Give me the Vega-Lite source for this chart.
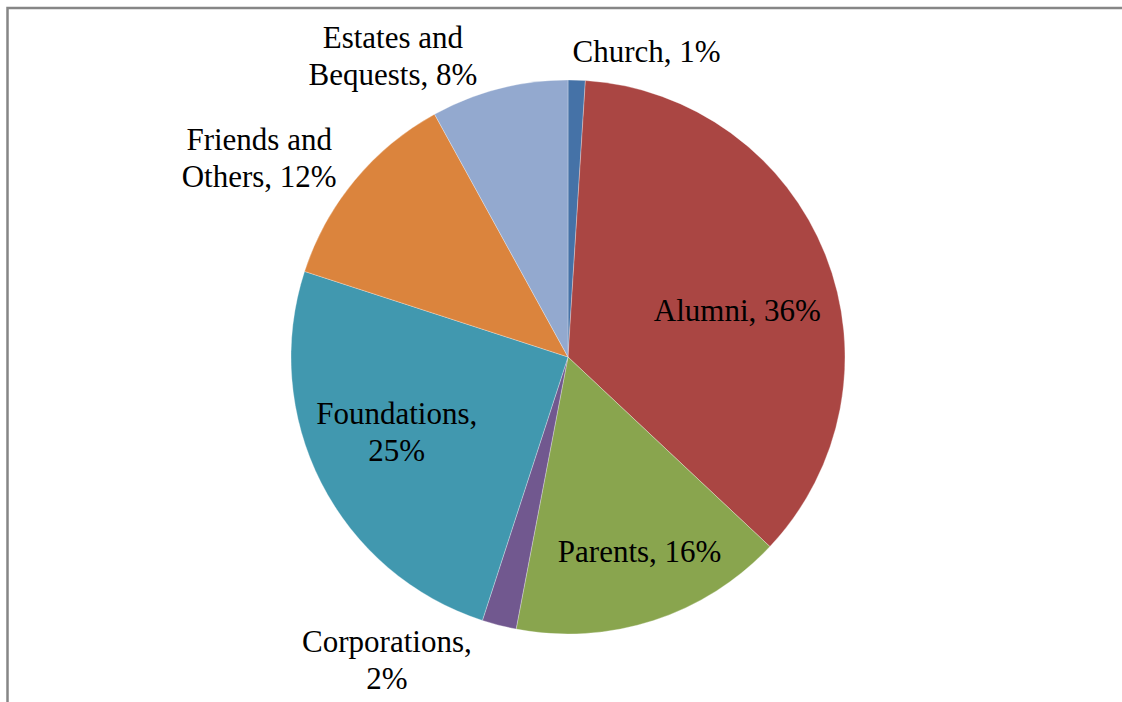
{
  "$schema": "https://vega.github.io/schema/vega-lite/v6.json",
  "width": 1121,
  "height": 698,
  "autosize": {"type": "none"},
  "padding": {"left": 7.5, "top": 8, "right": -6.5, "bottom": -4},
  "background": "white",
  "view": {"stroke": "#868686", "strokeWidth": 2.5},
  "data": {
    "values": [
      {"source": "Church", "label": "Church, 1%", "share": 1, "order": 1},
      {"source": "Alumni", "label": "Alumni, 36%", "share": 36, "order": 2},
      {"source": "Parents", "label": "Parents, 16%", "share": 16, "order": 3},
      {"source": "Corporations", "label": "Corporations,\n2%", "share": 2, "order": 4},
      {"source": "Foundations", "label": "Foundations,\n25%", "share": 25, "order": 5},
      {"source": "Friends and Others", "label": "Friends and\nOthers, 12%", "share": 12, "order": 6},
      {"source": "Estates and Bequests", "label": "Estates and\nBequests, 8%", "share": 8, "order": 7}
    ]
  },
  "transform": [
    {"stack": "share", "groupby": [], "sort": [{"field": "order", "order": "ascending"}], "as": ["s0", "s1"]},
    {"calculate": "(datum.s0 + datum.s1) / 2", "as": "mid"}
  ],
  "layer": [
    {
      "mark": {"type": "arc", "outerRadius": 277, "stroke": "white", "strokeWidth": 0.3},
      "encoding": {
        "theta": {"field": "s0", "type": "quantitative", "scale": {"domain": [0, 100]}},
        "theta2": {"field": "s1"},
        "color": {
          "field": "source",
          "type": "nominal",
          "scale": {
            "domain": ["Church", "Alumni", "Parents", "Corporations", "Foundations", "Friends and Others", "Estates and Bequests"],
            "range": ["#4572A7", "#AA4643", "#89A54E", "#71588F", "#4198AF", "#DB843D", "#93A9CF"]
          },
          "legend": null
        }
      }
    },
    {
      "transform": [{"filter": {"field": "source", "equal": "Church"}}],
      "mark": {"type": "text", "radius": 304, "align": "left", "dx": -5},
      "encoding": {
        "theta": {"field": "mid", "type": "quantitative", "scale": {"domain": [0, 100]}},
        "text": {"field": "label", "type": "nominal"}
      }
    },
    {
      "transform": [{"filter": {"field": "source", "equal": "Alumni"}}],
      "mark": {"type": "text", "radius": 180, "dx": 2, "dy": 21},
      "encoding": {
        "theta": {"field": "mid", "type": "quantitative", "scale": {"domain": [0, 100]}},
        "text": {"field": "label", "type": "nominal"}
      }
    },
    {
      "transform": [{"filter": {"field": "source", "equal": "Parents"}}],
      "mark": {"type": "text", "radius": 206, "dx": 8},
      "encoding": {
        "theta": {"field": "mid", "type": "quantitative", "scale": {"domain": [0, 100]}},
        "text": {"field": "label", "type": "nominal"}
      }
    },
    {
      "transform": [{"filter": {"field": "source", "equal": "Corporations"}}],
      "mark": {"type": "text", "radius": 314, "dx": -103, "dy": -18},
      "encoding": {
        "theta": {"field": "mid", "type": "quantitative", "scale": {"domain": [0, 100]}},
        "text": {"field": "label", "type": "nominal"}
      }
    },
    {
      "transform": [{"filter": {"field": "source", "equal": "Foundations"}}],
      "mark": {"type": "text", "radius": 190, "dx": -2, "dy": -28},
      "encoding": {
        "theta": {"field": "mid", "type": "quantitative", "scale": {"domain": [0, 100]}},
        "text": {"field": "label", "type": "nominal"}
      }
    },
    {
      "transform": [{"filter": {"field": "source", "equal": "Friends and Others"}}],
      "mark": {"type": "text", "radius": 310, "dx": -70, "dy": -18},
      "encoding": {
        "theta": {"field": "mid", "type": "quantitative", "scale": {"domain": [0, 100]}},
        "text": {"field": "label", "type": "nominal"}
      }
    },
    {
      "transform": [{"filter": {"field": "source", "equal": "Estates and Bequests"}}],
      "mark": {"type": "text", "radius": 310, "dx": -98, "dy": -18},
      "encoding": {
        "theta": {"field": "mid", "type": "quantitative", "scale": {"domain": [0, 100]}},
        "text": {"field": "label", "type": "nominal"}
      }
    }
  ],
  "config": {
    "view": {"stroke": "#868686", "strokeWidth": 2.5},
    "text": {"font": "Liberation Serif", "fontSize": 31, "lineHeight": 37, "color": "black", "lineBreak": "\n", "baseline": "middle"}
  }
}
